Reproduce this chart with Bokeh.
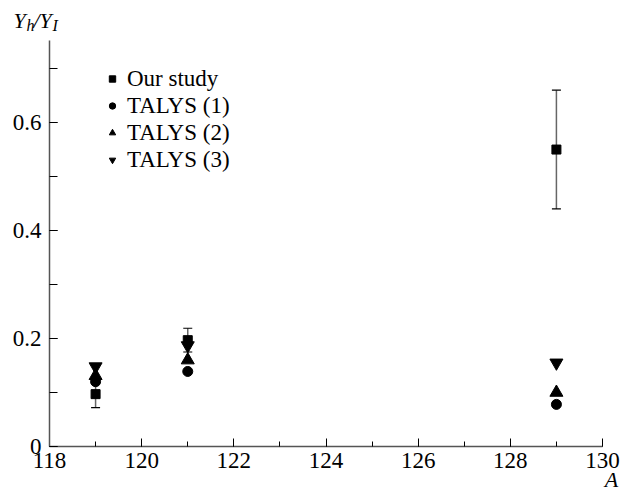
from bokeh.plotting import figure
from bokeh.models import (Range1d, SingleIntervalTicker, Label, Legend, LegendItem,
                          Whisker, TeeHead, ColumnDataSource)
from bokeh.embed import file_html
from bokeh.resources import INLINE

A = [119, 121, 129]
our = [0.097, 0.197, 0.55]
our_err = [0.025, 0.022, 0.11]
talys1 = [0.12, 0.139, 0.078]
talys2 = [0.131, 0.16, 0.10]
talys3 = [0.148, 0.187, 0.155]
labels = ["Our study", "TALYS (1)", "TALYS (2)", "TALYS (3)"]

FONT = "Liberation Serif"
W, H = 621, 495
# plot area in canvas pixels
L, R, T, B = 49, 602, 40, 446
X0, X1, Y0, Y1 = 118, 130, 0, 0.752
sx = (R - L) / (X1 - X0)
sy = (B - T) / (Y1 - Y0)

p = figure(width=W, height=H, output_backend="svg", toolbar_location=None,
           x_range=Range1d(X0 - L / sx, X1 + (W - R) / sx),
           y_range=Range1d(Y0 - (H - B) / sy, Y1 + T / sy),
           min_border=0, min_border_left=0, min_border_right=0,
           min_border_top=0, min_border_bottom=0)
p.outline_line_color = None
p.grid.grid_line_color = None
p.background_fill_color = "white"
p.border_fill_color = "white"

xa = p.xaxis[0]
xa.ticker = SingleIntervalTicker(interval=2, num_minor_ticks=2)
xa.fixed_location = Y0
xa.bounds = (X0, X1)
ya = p.yaxis[0]
ya.ticker = SingleIntervalTicker(interval=0.2, num_minor_ticks=2)
ya.fixed_location = X0
ya.bounds = (Y0, Y1)
for ax in (xa, ya):
    ax.axis_line_color = "#555555"
    ax.axis_line_width = 1.5
    ax.major_tick_in = 8
    ax.major_tick_out = 0
    ax.minor_tick_out = 0
    ax.major_tick_line_color = "black"
    ax.minor_tick_line_color = "black"
    ax.major_label_text_font = FONT
    ax.major_label_text_font_size = "23px"
    ax.major_label_text_color = "black"
xa.minor_tick_in = 5
ya.minor_tick_in = 8
xa.major_label_standoff = 6
ya.major_label_standoff = 8
ya.major_label_overrides = {0: "0", 0.2: "0.2", 0.4: "0.4", 0.6: "0.6"}

src = ColumnDataSource(dict(x=A, y=our, lo=[v - e for v, e in zip(our, our_err)],
                            hi=[v + e for v, e in zip(our, our_err)]))
w = Whisker(base="x", upper="hi", lower="lo", source=src, dimension="height",
            line_color="#666666", line_width=1.5,
            upper_head=TeeHead(size=9, line_color="black", line_width=1.2),
            lower_head=TeeHead(size=9, line_color="black", line_width=1.2))
p.add_layout(w)

r0 = p.scatter(A, our, marker="square", size=9, color="black")
r1 = p.scatter(A, talys1, marker="circle", size=10, color="black")
r2 = p.scatter(A, talys2, marker="triangle", size=13, color="black")
r3 = p.scatter(A, talys3, marker="inverted_triangle", size=13, color="black")

legend = Legend(items=[LegendItem(label=l, renderers=[r]) for l, r in zip(labels, [r0, r1, r2, r3])],
                location=(104, 322), border_line_color=None, background_fill_alpha=0,
                padding=0, margin=0, spacing=0, glyph_width=16, glyph_height=27,
                label_height=27, label_standoff=7,
                label_text_font=FONT, label_text_font_size="23px", label_text_color="black")
p.add_layout(legend, "center")

def lab(text, size, x, y, align="left"):
    p.add_layout(Label(x=x, y=H - y, x_units="screen", y_units="screen", text=text,
                       text_font=FONT, text_font_style="italic", text_font_size=size,
                       text_color="black", text_align=align, text_baseline="alphabetic"))

lab("Y", "22px", 13, 20)
lab("h", "16px", 26, 25)
lab("/Y", "22px", 33, 20)
lab("I", "16px", 52, 25)
lab("A", "22px", 611, 479, align="center")

open("out.html", "w").write(file_html(p, INLINE))
